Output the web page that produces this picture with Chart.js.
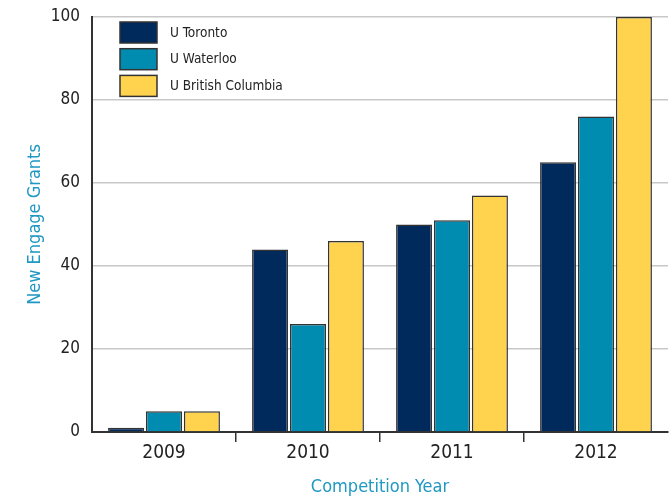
<!DOCTYPE html>
<html>
<head>
<meta charset="utf-8">
<script src="https://cdn.jsdelivr.net/npm/chart.js@4"></script>
<style>
  html, body { margin: 0; padding: 0; background: #fff; }
  #wrap { width: 671px; height: 498px; }
</style>
</head>
<body>
<div id="wrap"><canvas id="chart" width="671" height="498"></canvas></div>
<script>
const years = ['2009', '2010', '2011', '2012'];
const toronto = [1, 44, 50, 65];
const waterloo = [5, 26, 51, 76];
const ubc = [5, 46, 57, 100];
const yTicks = [0, 20, 40, 60, 80, 100];

const fontFamily = '"DejaVu Sans Condensed", "Liberation Sans Narrow", sans-serif';
const teal = '#1f98c2';

// legend sits inside the plot, top-left, stacked
const boxLegend = {
    id: 'boxLegend',
    afterDraw(chart) {
        const ctx = chart.ctx;
        ctx.save();
        ctx.font = '13.5px ' + fontFamily;
        ctx.textBaseline = 'middle';
        chart.data.datasets.forEach((ds, i) => {
            const y = 22 + i * 26.7;
            ctx.fillStyle = ds.backgroundColor;
            ctx.fillRect(120, y, 37, 21);
            ctx.strokeStyle = '#333';
            ctx.lineWidth = 1.5;
            ctx.strokeRect(120, y, 37, 21);
            ctx.fillStyle = '#222';
            ctx.fillText(ds.label, 170, y + 11);
        });
        ctx.restore();
    }
};

new Chart(document.getElementById('chart'), {
    type: 'bar',
    data: {
        labels: years,
        datasets: [
            { label: 'U Toronto', data: toronto, backgroundColor: '#002a5c' },
            { label: 'U Waterloo', data: waterloo, backgroundColor: '#008cb1' },
            { label: 'U British Columbia', data: ubc, backgroundColor: '#ffd34e' }
        ]
    },
    options: {
        responsive: false,
        animation: false,
        layout: { padding: { top: 17, right: 3, left: 0, bottom: 0 } },
        datasets: {
            bar: {
                borderColor: '#333',
                borderWidth: 1.5,
                categoryPercentage: 0.79,
                barPercentage: 0.95
            }
        },
        plugins: {
            legend: { display: false },
            tooltip: { enabled: false }
        },
        scales: {
            x: {
                afterFit(scale) { scale.height = 66; scale.paddingLeft = 0; scale.paddingRight = 0; },
                grid: {
                    drawOnChartArea: false,
                    tickLength: 10,
                    lineWidth: 1.5,
                    color: c => (c.index > 0 && c.index < years.length) ? '#333' : 'rgba(0,0,0,0)'
                },
                border: { display: true, color: '#333', width: 2 },
                ticks: { color: '#222', font: { family: fontFamily, size: 19 }, padding: 0 },
                title: {
                    display: true,
                    text: 'Competition Year',
                    color: teal,
                    font: { family: fontFamily, size: 18 },
                    padding: { top: 0, bottom: 0 }
                }
            },
            y: {
                min: 0,
                max: 100,
                afterFit(scale) { scale.width = 92; scale.paddingTop = 0; scale.paddingBottom = 0; },
                afterBuildTicks(scale) { scale.ticks = yTicks.map(v => ({ value: v })); },
                grid: { color: '#c8c8c8', lineWidth: 1.5, drawTicks: false },
                border: { display: true, color: '#333', width: 2 },
                ticks: { color: '#222', font: { family: fontFamily, size: 17 }, padding: 12 },
                title: {
                    display: true,
                    text: 'New Engage Grants',
                    color: teal,
                    font: { family: fontFamily, size: 18 },
                    padding: { top: 25, bottom: 0 }
                }
            }
        }
    },
    plugins: [boxLegend]
});
</script>
</body>
</html>
